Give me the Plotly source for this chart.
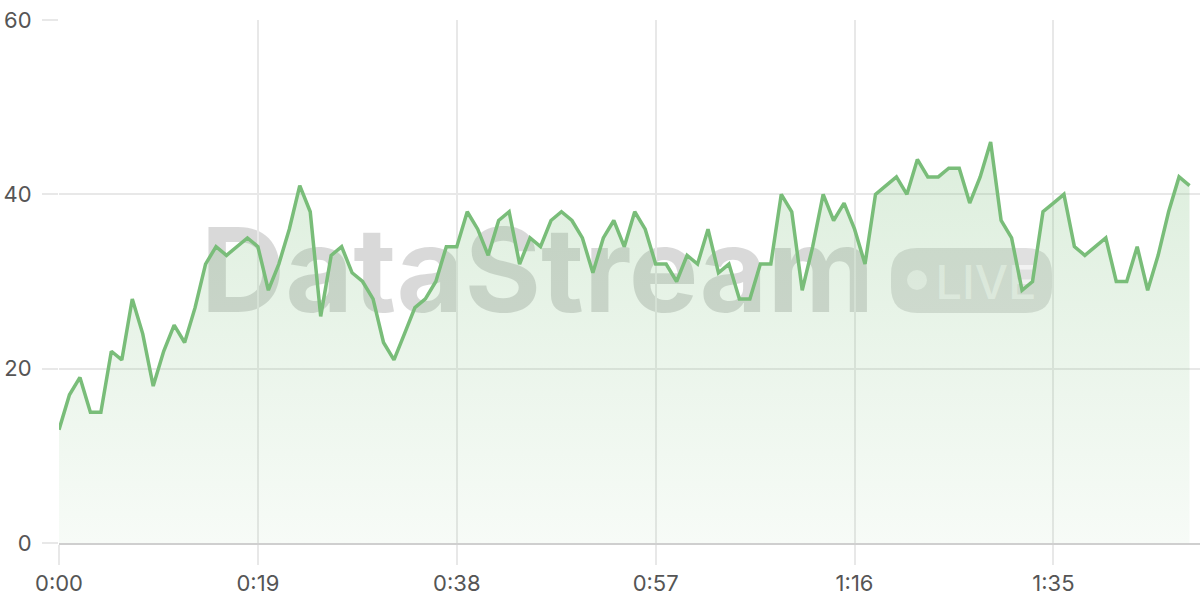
import plotly.graph_objects as go

# ---- data ----
seconds = list(range(109))
values = [13, 17, 19, 15, 15, 22, 21, 28, 24, 18,
          22, 25, 23, 27, 32, 34, 33, 34, 35, 34,
          29, 32, 36, 41, 38, 26, 33, 34, 31, 30,
          28, 23, 21, 24, 27, 28, 30, 34, 34, 38,
          36, 33, 37, 38, 32, 35, 34, 37, 38, 37,
          35, 31, 35, 37, 34, 38, 36, 32, 32, 30,
          33, 32, 36, 31, 32, 28, 28, 32, 32, 40,
          38, 29, 34, 40, 37, 39, 36, 32, 40, 41,
          42, 40, 44, 42, 42, 43, 43, 39, 42, 46,
          37, 35, 29, 30, 38, 39, 40, 34, 33, 34,
          35, 30, 30, 34, 29, 33, 38, 42, 41]
x_tickvals = [0, 19, 38, 57, 76, 95]
x_ticktext = ["0:00", "0:19", "0:38", "0:57", "1:16", "1:35"]
y_tickvals = [0, 20, 40, 60]

# ---- layout geometry (pixels) ----
W, H = 1200, 600
ML, MR, MT, MB = 59, 0, 20, 57
PW, PH = W - ML - MR, H - MT - MB


def px(xp):
    return (xp - ML) / PW


def py(yp):
    return (H - MB - yp) / PH


LINE = "#79bd79"
GRID = "#e8e8e8"
FONT = "Inter"

fig = go.Figure()
fig.add_trace(go.Scatter(
    x=seconds, y=values, mode="lines",
    line=dict(color=LINE, width=3.5),
    fill="tozeroy",
    fillgradient=dict(
        type="vertical",
        colorscale=[[0, "rgba(121,189,121,0.06)"], [1, "rgba(121,189,121,0.26)"]],
    ),
    hoverinfo="skip", showlegend=False,
))

# ---- watermark ----
shapes = []
shapes.append(dict(
    type="rect", xref="paper", yref="paper", layer="below",
    x0=px(200), x1=px(875), y0=py(325), y1=py(205),
    line=dict(width=0), fillcolor="rgba(0,0,0,0)",
    label=dict(text="DataStream", textposition="middle center",
               font=dict(family=FONT, size=117, weight=700,
                         color="rgba(0,0,0,0.15)")),
))
x0, x1, y0, y1, r = 891, 1052, 248, 313, 26
path = (f"M {px(x0 + r)} {py(y0)} L {px(x1 - r)} {py(y0)} "
        f"Q {px(x1)} {py(y0)} {px(x1)} {py(y0 + r)} "
        f"L {px(x1)} {py(y1 - r)} "
        f"Q {px(x1)} {py(y1)} {px(x1 - r)} {py(y1)} "
        f"L {px(x0 + r)} {py(y1)} "
        f"Q {px(x0)} {py(y1)} {px(x0)} {py(y1 - r)} "
        f"L {px(x0)} {py(y0 + r)} "
        f"Q {px(x0)} {py(y0)} {px(x0 + r)} {py(y0)} Z")
shapes.append(dict(type="path", xref="paper", yref="paper", layer="below",
                   path=path, fillcolor="rgba(0,0,0,0.12)", line=dict(width=0)))
cx, cy, cr = 917, 280, 10
shapes.append(dict(type="circle", xref="paper", yref="paper", layer="below",
                   x0=px(cx - cr), x1=px(cx + cr), y0=py(cy + cr), y1=py(cy - cr),
                   fillcolor="rgba(255,255,255,0.6)", line=dict(width=0)))
shapes.append(dict(
    type="rect", xref="paper", yref="paper", layer="below",
    x0=px(934), x1=px(1038), y0=py(300), y1=py(260),
    line=dict(width=0), fillcolor="rgba(0,0,0,0)",
    label=dict(text="LIVE", textposition="middle center",
               font=dict(family=FONT, size=47, weight=500,
                         color="rgba(255,255,255,0.6)")),
))

fig.update_layout(
    width=W, height=H,
    margin=dict(l=ML, r=MR, t=MT, b=MB),
    paper_bgcolor="white", plot_bgcolor="white",
    shapes=shapes,
    font=dict(family=FONT, size=22, color="#555555"),
    xaxis=dict(range=[0, 109], tickvals=x_tickvals, ticktext=x_ticktext,
               showgrid=True, gridcolor=GRID, gridwidth=1.5,
               ticks="outside", ticklen=20, tickcolor=GRID, tickwidth=1.5,
               showline=True, linecolor="#cfcfcf", linewidth=1.5,
               zeroline=False, fixedrange=True, automargin=False),
    yaxis=dict(range=[0, 60], tickvals=y_tickvals,
               showgrid=True, gridcolor=GRID, gridwidth=1.5,
               ticks="outside", ticklen=16, tickcolor=GRID, tickwidth=1.5,
               ticklabelstandoff=6,
               showline=False, zeroline=False, fixedrange=True, automargin=False),
    hovermode=False,
)

fig.write_html("out.html", config={"displayModeBar": False},
               post_script="document.body.style.margin='0';")
